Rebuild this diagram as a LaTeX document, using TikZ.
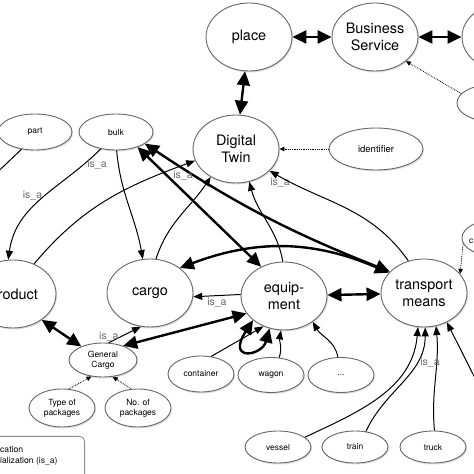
\documentclass[tikz,border=0pt]{standalone}
\usepackage{fontspec}
\setmainfont{TeX Gyre Heros}
\usepackage{tikz}
\usetikzlibrary{arrows.meta,calc,positioning,shapes.geometric,shadows}
\tikzset{
	twin diagram/.style={
		x=1pt, y=1pt,
		concept/.style={ellipse, draw=black!60, line width=.9pt, fill=white,
			inner sep=0pt, align=center,
			drop shadow={opacity=.25, shadow xshift=1pt, shadow yshift=-1.5pt}},
		big/.style={concept, minimum width=86pt, minimum height=68pt,
			font=\fontsize{14.4}{17}\selectfont},
		small/.style={concept, minimum width=66pt, minimum height=36pt,
			font=\fontsize{8.5}{10}\selectfont},
		isa/.style={font=\fontsize{10.5}{12}\selectfont, text=black!60, inner sep=1pt},
		ar/.style={line width=1pt, -{Triangle[length=9pt,width=7pt]}},
		thk/.style={line width=2.4pt, {Triangle[length=14pt,width=13pt]}-{Triangle[length=14pt,width=13pt]}},
		prop/.style={line width=.8pt, densely dotted, -{Triangle[length=5pt,width=4.5pt]}}
	}
}

\begin{document}
\begin{tikzpicture}[twin diagram]
	\clip (0,0) rectangle (474,474);
	\useasboundingbox (0,0) rectangle (474,474);
	% top row
	\node[big] (place) at (249,437) {place};
	\node[big] (bsvc) at (375,437) {Business\\Service};
	\node[big] (offR) at (505,437) {};
	\node[small] (offR2) at (490,371) {};
	\node[big] (dtwin) at (236,325) {Digital\\Twin};
	\node[small, minimum width=94pt, minimum height=42pt, font=\fontsize{9.5}{11}\selectfont] (ident) at (376,325) {identifier};
	\node[small, minimum width=74pt] (part) at (35,342) {part};
	\node[small, minimum width=74pt] (bulk) at (116,342) {bulk};
	% middle row
	\node[big] (product) at (13,180) {Product};
	\node[big] (cargo) at (150,181) {cargo};
	\node[big] (equip) at (284,178) {equip-\\ment};
	\node[big] (tmeans) at (424,181) {transport\\means};
	\node[small] (offR3) at (495,236) {};
	\node[font=\fontsize{8.5}{10}\selectfont, anchor=west, inner sep=0pt] (offR3lbl) at (469,233) {c};
	% lower part
	\node[small, minimum width=68pt, minimum height=34pt] (gcargo) at (103,114) {General\\Cargo};
	\node[small, minimum height=38pt] (typepk) at (62,66) {Type of\\packages};
	\node[small, minimum height=38pt] (nopk) at (138,66) {No. of\\packages};
	\node[small] (container) at (201,100) {container};
	\node[small, minimum height=35pt] (wagon) at (271,99) {wagon};
	\node[small, minimum height=35pt] (dots) at (341,99) {...};
	\node[small, minimum height=32pt] (vessel) at (278,27) {vessel};
	\node[small, minimum height=32pt] (train) at (355,27) {train};
	\node[small, minimum height=32pt] (truck) at (433,27) {truck};
	% legend
	\node[draw=black!45, line width=.8pt, rounded corners=5pt, fill=white,
		minimum width=110pt, minimum height=60pt, anchor=north east] (legend) at (85,38) {};
	\node[font=\fontsize{8.6}{10}\selectfont, anchor=west, inner sep=0pt] (legA) at (0,24) {cation};
	\node[font=\fontsize{8.6}{10}\selectfont, anchor=west, inner sep=0pt] (legB) at (0,13) {ialization (is\_a)};
	\coordinate (partout) at (-15,290);
	\coordinate (rightout) at (482,82);

	% thick relations
	\draw[thk] (place) -- (bsvc);
	\draw[thk] (bsvc) -- (offR);
	\draw[thk] (place) -- (dtwin);
	\draw[thk] (bulk.-35) -- (equip.128);
	\draw[thk] (bulk.-22) to[bend right=6] (tmeans.148);
	\draw[thk] (tmeans.150) to[bend right=22] (cargo.40);
	\draw[thk] (equip) -- (tmeans);
	\draw[thk] (equip.205) -- (gcargo.35);
	\draw[thk] (equip.218) .. controls (226,112) and (262,118) .. (equip.246);
	\draw[thk] (product.-42) -- (gcargo.148);

	% is_a
	\draw[ar] (part.232) -- (partout);
	\draw[ar] (bulk.228) to[out=225,in=82] node[isa, pos=.47, left=2pt] (isa1) {is\_a} (product.98);
	\draw[ar] (bulk.-88) to[out=-85,in=100] (cargo.102);
	\node[isa] (isa2) at (97,309) {is\_a};
	\draw[ar] (product.55) to[out=50,in=200] (dtwin.196);
	\draw[ar] (cargo.80) to[out=72,in=236] (dtwin.228);
	\node[isa] (isa3) at (183,298) {is\_a};
	\draw[ar] (equip.92) to[out=100,in=-75] (dtwin.-68);
	\node[isa] (isa4) at (280,291) {is\_a};
	\draw[ar] (tmeans.116) to[out=125,in=-30] (dtwin.-33);
	\draw[ar] (equip.178) -- node[isa, pos=.5, below=1pt] (isa5) {is\_a} (cargo.-5);
	\draw[ar] (gcargo.72) -- node[isa, pos=.35, left=0pt] (isa6) {is\_a} (cargo.-105);
	\draw[ar] (container.60) -- (equip.236);
	\draw[ar] (wagon.65) to[out=70,in=-100] (equip.-95);
	\draw[ar] (dots.100) to[out=100,in=-60] (equip.-42);
	\draw[ar] (vessel.20) to[out=25,in=-95] (tmeans.-100);
	\draw[ar] (train.55) to[out=65,in=-90] (tmeans.-88);
	\draw[ar] (truck.85) to[out=95,in=-85] (tmeans.-70);
	\draw[ar] (rightout) -- (tmeans.-52);
	\node[isa] (isa7) at (430,111) {is\_a};

	% properties
	\draw[prop] (offR2.162) -- (bsvc.-38);
	\draw[prop] (ident) -- (dtwin);
	\draw[prop] (offR3.190) -- (tmeans.28);
	\draw[prop] (typepk.70) -- (gcargo.-125);
	\draw[prop] (nopk.110) -- (gcargo.-60);
\end{tikzpicture}
\end{document}
